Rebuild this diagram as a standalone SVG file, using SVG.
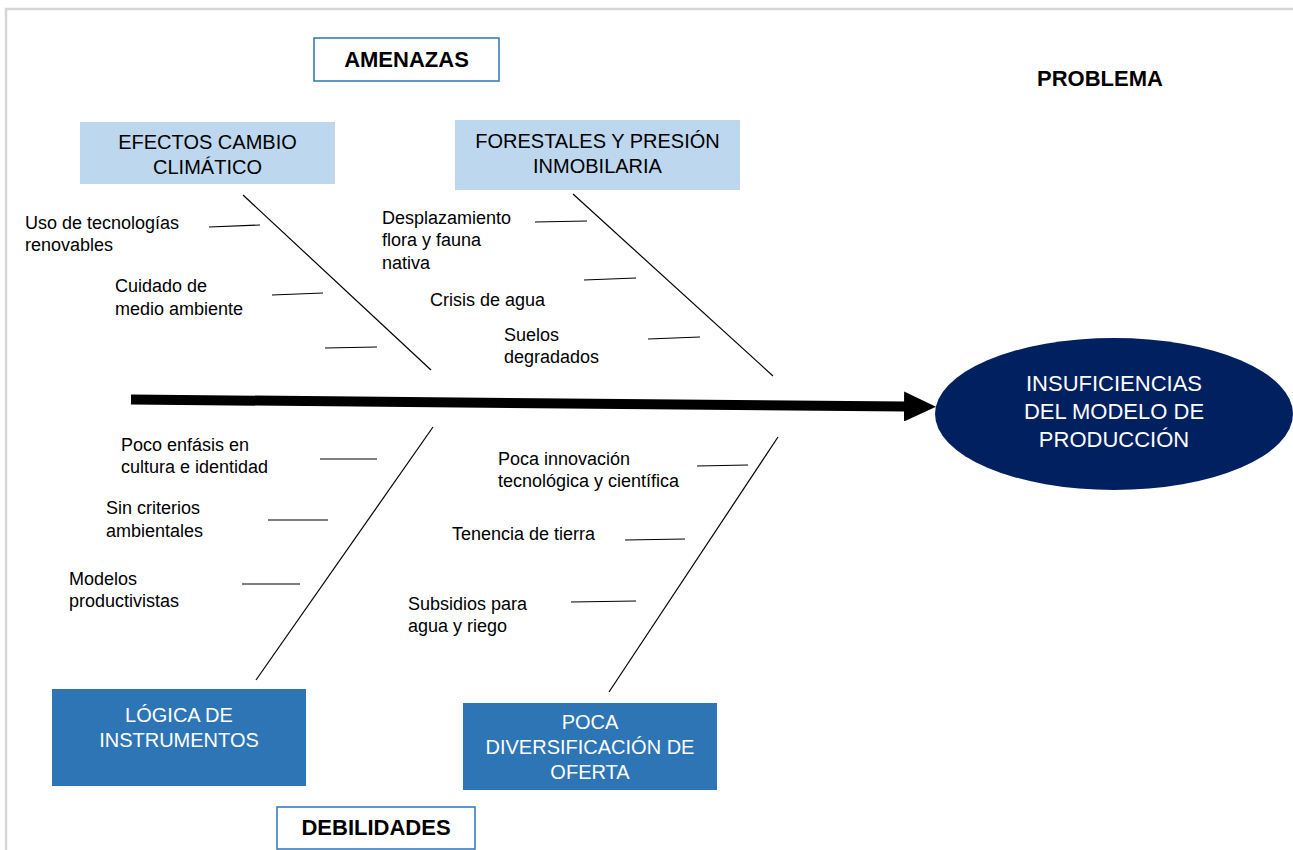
<svg xmlns="http://www.w3.org/2000/svg" width="1293" height="850" viewBox="0 0 1293 850">
<style>
text{font-family:"Liberation Sans",Arial,sans-serif;fill:#000}
.lbl{font-size:18px}
.box{font-size:20px;text-anchor:middle}
.boxw{font-size:20px;text-anchor:middle;fill:#fff}
.hdr{font-size:22px;font-weight:bold;text-anchor:middle}
.ell{font-size:22px;text-anchor:middle;fill:#fff}
.bone{stroke:#000;stroke-width:1.2;fill:none}
.rib{stroke:#000;stroke-width:1.2;fill:none}
.light{fill:#bdd7ee}
.dark{fill:#2e75b6}
.tag{fill:#fff;stroke:#2e75b6;stroke-width:1.5}
</style>
<defs>
<marker id="ah" markerWidth="3.2" markerHeight="3" refX="0.2" refY="1.5" orient="auto" markerUnits="strokeWidth">
<path d="M0,0 L3.2,1.5 L0,3 Z" fill="#000"/>
</marker>
</defs>
<rect width="1293" height="850" fill="#fff"/>
<path d="M6,850 V9 H1293" fill="none" stroke="#d6d6d6" stroke-width="2.5"/>

<g id="amenazas"><rect class="tag" x="314" y="38" width="185" height="43"/><text class="hdr" x="406.5" y="67">AMENAZAS</text></g>
<g id="problema"><text class="hdr" x="1100" y="86">PROBLEMA</text></g>
<g id="debilidades"><rect class="tag" x="277" y="807" width="198" height="42"/><text class="hdr" x="376" y="835">DEBILIDADES</text></g>

<g id="efectos"><rect class="light" x="80" y="122" width="255" height="62"/><text class="box" x="207.5" y="149">EFECTOS CAMBIO</text><text class="box" x="207.5" y="174">CLIMÁTICO</text></g>
<g id="forestales"><rect class="light" x="455" y="120" width="285" height="70"/><text class="box" x="597.5" y="148">FORESTALES Y PRESIÓN</text><text class="box" x="597.5" y="173">INMOBILARIA</text></g>
<g id="logica"><rect class="dark" x="52" y="689" width="254" height="97"/><text class="boxw" x="179" y="722">LÓGICA DE</text><text class="boxw" x="179" y="747">INSTRUMENTOS</text></g>
<g id="poca"><rect class="dark" x="463" y="703" width="254" height="87"/><text class="boxw" x="590" y="729">POCA</text><text class="boxw" x="590" y="754">DIVERSIFICACIÓN DE</text><text class="boxw" x="590" y="779">OFERTA</text></g>

<g id="problema-node"><ellipse cx="1114" cy="414" rx="179" ry="76" fill="#002060"/>
<text class="ell" x="1114" y="391">INSUFICIENCIAS</text>
<text class="ell" x="1114" y="419">DEL MODELO DE</text>
<text class="ell" x="1114" y="447">PRODUCCIÓN</text></g>

<g id="causes">
<text class="lbl" x="25" y="229">Uso de tecnologías</text><text class="lbl" x="25" y="251">renovables</text>
<text class="lbl" x="115" y="292">Cuidado de</text><text class="lbl" x="115" y="315">medio ambiente</text>
<text class="lbl" x="382" y="224">Desplazamiento</text><text class="lbl" x="382" y="246">flora y fauna</text><text class="lbl" x="382" y="269">nativa</text>
<text class="lbl" x="430" y="306">Crisis de agua</text>
<text class="lbl" x="504" y="341">Suelos</text><text class="lbl" x="504" y="363">degradados</text>
<text class="lbl" x="121" y="451">Poco enfásis en</text><text class="lbl" x="121" y="473">cultura e identidad</text>
<text class="lbl" x="106" y="514">Sin criterios</text><text class="lbl" x="106" y="537">ambientales</text>
<text class="lbl" x="69" y="585">Modelos</text><text class="lbl" x="69" y="607">productivistas</text>
<text class="lbl" x="498" y="465">Poca innovación</text><text class="lbl" x="498" y="487">tecnológica y científica</text>
<text class="lbl" x="452" y="540">Tenencia de tierra</text>
<text class="lbl" x="408" y="610">Subsidios para</text><text class="lbl" x="408" y="632">agua y riego</text>
</g>

<g id="connectors">
<line x1="131" y1="399.5" x2="906" y2="406.5" stroke="#000" stroke-width="10" marker-end="url(#ah)"/>
<line class="bone" x1="243" y1="195" x2="431" y2="370"/>
<line class="bone" x1="573" y1="194" x2="773" y2="376"/>
<line class="bone" x1="433" y1="427" x2="256" y2="680"/>
<line class="bone" x1="778" y1="437" x2="609" y2="692"/>
<line class="rib" x1="209" y1="227" x2="260" y2="225"/>
<line class="rib" x1="272" y1="295" x2="323" y2="293"/>
<line class="rib" x1="325" y1="348" x2="377" y2="347"/>
<line class="rib" x1="535" y1="222" x2="587" y2="221"/>
<line class="rib" x1="584" y1="280" x2="636" y2="278"/>
<line class="rib" x1="648" y1="339" x2="700" y2="337"/>
<line class="rib" x1="320" y1="459" x2="377" y2="459"/>
<line class="rib" x1="268" y1="520" x2="328" y2="520"/>
<line class="rib" x1="242" y1="584" x2="300" y2="584"/>
<line class="rib" x1="697" y1="466" x2="748" y2="465"/>
<line class="rib" x1="625" y1="540" x2="685" y2="539"/>
<line class="rib" x1="571" y1="602" x2="636" y2="601"/>
</g>
</svg>
